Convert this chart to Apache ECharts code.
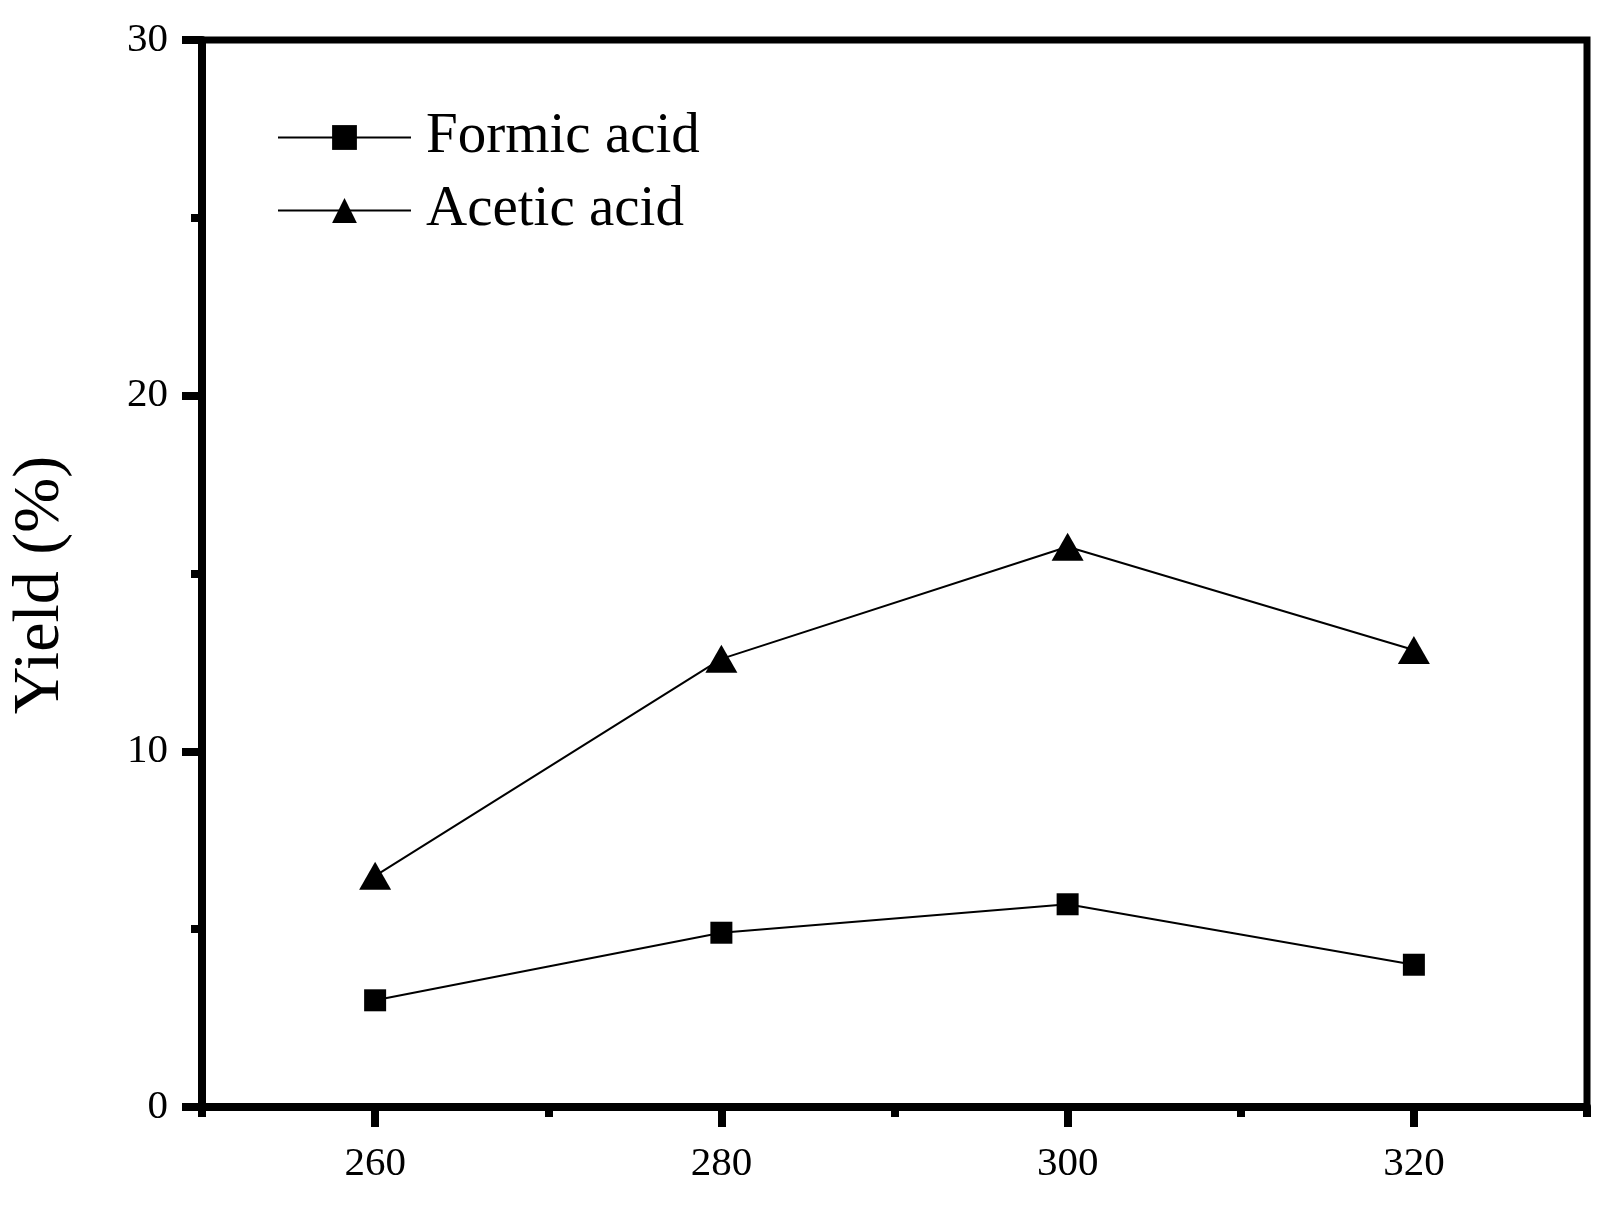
<!DOCTYPE html>
<html><head><meta charset="utf-8">
<script src="https://cdn.jsdelivr.net/npm/echarts@6/dist/echarts.min.js"></script>
<style>html,body{margin:0;padding:0;background:#fff}#c{width:1616px;height:1205px}</style>
</head><body><div id="c"></div>
<script>
const temperatures = [260, 280, 300, 320];
const formicAcid = [3.0, 4.9, 5.7, 4.0];
const aceticAcid = [6.5, 12.6, 15.75, 12.85];
const xMajorTicks = [260, 280, 300, 320];
const xMinorTicks = [250, 270, 290, 310, 330];
const seriesNames = ['Formic acid', 'Acetic acid'];

const serif = '"Liberation Serif", "Times New Roman", serif';
const chart = echarts.init(document.getElementById('c'));
const pair = (vals) => temperatures.map((t, i) => [t, vals[i]]);

chart.setOption({
  animation: false,
  backgroundColor: '#fff',
  grid: { left: 196, right: 29, top: 40, bottom: 98, show: true, borderColor: '#000', borderWidth: 7, backgroundColor: 'transparent' },
  legend: {
    orient: 'vertical', left: 272, top: 104, itemWidth: 133, itemHeight: 31, itemGap: 16,
    data: seriesNames,
    textStyle: { fontFamily: serif, fontSize: 57, color: '#000', lineHeight: 57, padding: [0, 0, 0, 10] }
  },
  xAxis: [
    {
      type: 'value', min: 250, max: 330, interval: 10,
      axisLine: { show: true, lineStyle: { color: '#000', width: 8 } },
      axisTick: { show: true, customValues: xMajorTicks, length: 20, lineStyle: { color: '#000', width: 8 } },
      axisLabel: { show: true, customValues: xMajorTicks, margin: 37, fontFamily: serif, fontSize: 41, color: '#000' },
      splitLine: { show: false }
    },
    {
      type: 'value', min: 250, max: 330, interval: 10, position: 'bottom',
      axisLine: { show: false },
      axisTick: { show: true, customValues: xMinorTicks, length: 10, lineStyle: { color: '#000', width: 8 } },
      axisLabel: { show: false },
      splitLine: { show: false }
    }
  ],
  yAxis: {
    type: 'value', min: 0, max: 30, interval: 10,
    name: 'Yield (%)', nameLocation: 'middle', nameGap: 128, nameRotate: 90,
    nameTextStyle: { fontFamily: serif, fontSize: 66, fontWeight: 'normal', color: '#000', padding: [0, 23, 0, 0] },
    axisLine: { show: true, lineStyle: { color: '#000', width: 8 } },
    axisTick: { show: true, length: 20, lineStyle: { color: '#000', width: 8 } },
    minorTick: { show: true, splitNumber: 2, length: 11, lineStyle: { color: '#000', width: 8 } },
    axisLabel: { margin: 34, fontFamily: serif, fontSize: 41, color: '#000' },
    splitLine: { show: false }
  },
  series: [
    {
      name: seriesNames[0], type: 'line', xAxisIndex: 0, data: pair(formicAcid),
      symbol: 'rect', symbolSize: 22,
      lineStyle: { color: '#000', width: 2 }, itemStyle: { color: '#000' }
    },
    {
      name: seriesNames[1], type: 'line', xAxisIndex: 0, data: pair(aceticAcid),
      symbol: 'triangle', symbolSize: [32, 28],
      lineStyle: { color: '#000', width: 2 }, itemStyle: { color: '#000' }
    }
  ]
});
</script></body></html>
